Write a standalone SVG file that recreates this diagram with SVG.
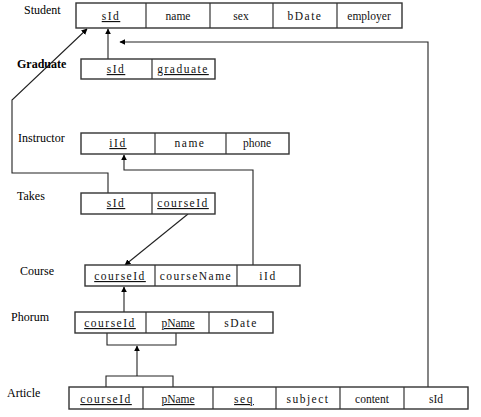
<svg xmlns="http://www.w3.org/2000/svg" width="481" height="417" viewBox="0 0 481 417">
<style>
.box{fill:#fff;stroke:#333;stroke-width:1.4}
.div{stroke:#333;stroke-width:1.2}
.lbl{font-family:"Liberation Serif",serif;font-size:12px;fill:#000}
.f{font-family:"Liberation Serif",serif;font-size:11.5px;fill:#111;text-anchor:middle;letter-spacing:1.5px}
.s{font-family:"Liberation Serif",serif;font-size:11.5px;fill:#111;text-anchor:middle}
.u{text-decoration:underline}
.c{fill:none;stroke:#222;stroke-width:1.1}
</style>
<defs>
<marker id="ah" viewBox="0 0 10 10" refX="9" refY="5" markerWidth="6" markerHeight="6" markerUnits="userSpaceOnUse" orient="auto">
<path d="M0,0 L10,5 L0,10 z" fill="#000"/>
</marker>
</defs>
<rect width="481" height="417" fill="#fff"/>
<g id="connectors">
<polyline class="c" points="108,59 108,29" marker-end="url(#ah)"/>
<polyline class="c" points="108,193 108,173 12,173 12,100 87,29" marker-end="url(#ah)"/>
<polyline class="c" points="428,387 428,42 120,42" marker-end="url(#ah)"/>
<polyline class="c" points="253,265 253,170 124,170 124,155" marker-end="url(#ah)"/>
<polyline class="c" points="188,214 125,265" marker-end="url(#ah)"/>
<polyline class="c" points="124,312 124,287" marker-end="url(#ah)"/>
<polyline class="c" points="107,333 107,345 176,345 176,333"/>
<polyline class="c" points="106,387 106,376 173,376 173,387"/>
<polyline class="c" points="137,376 137,346" marker-end="url(#ah)"/>
</g>
<g id="student">
<text class="lbl" x="24" y="14">Student</text>
<rect class="box" x="76" y="3" width="326" height="25"/>
<line class="div" x1="146" y1="3" x2="146" y2="28"/>
<line class="div" x1="210" y1="3" x2="210" y2="28"/>
<line class="div" x1="273" y1="3" x2="273" y2="28"/>
<line class="div" x1="337" y1="3" x2="337" y2="28"/>
<text class="f u" x="111" y="20">sId</text>
<text class="s" x="178" y="20">name</text>
<text class="s" x="241" y="20">sex</text>
<text class="f" x="305" y="20">bDate</text>
<text class="s" x="369" y="20">employer</text>
</g>
<g id="graduate">
<text class="lbl" x="17" y="68" font-weight="bold">Graduate</text>
<rect class="box" x="81" y="59" width="134" height="20"/>
<line class="div" x1="152" y1="59" x2="152" y2="79"/>
<text class="f u" x="116" y="73">sId</text>
<text class="f u" x="183" y="73">graduate</text>
</g>
<g id="instructor">
<text class="lbl" x="18" y="142">Instructor</text>
<rect class="box" x="81" y="133" width="208" height="21"/>
<line class="div" x1="155" y1="133" x2="155" y2="154"/>
<line class="div" x1="226" y1="133" x2="226" y2="154"/>
<text class="f u" x="118" y="147">iId</text>
<text class="f" x="190" y="147">name</text>
<text class="s" x="257" y="147">phone</text>
</g>
<g id="takes">
<text class="lbl" x="17" y="200">Takes</text>
<rect class="box" x="81" y="193" width="134" height="21"/>
<line class="div" x1="152" y1="193" x2="152" y2="214"/>
<text class="f u" x="116" y="207">sId</text>
<text class="f u" x="183" y="207">courseId</text>
</g>
<g id="course">
<text class="lbl" x="20" y="275">Course</text>
<rect class="box" x="85" y="265" width="215" height="21"/>
<line class="div" x1="155" y1="265" x2="155" y2="286"/>
<line class="div" x1="237" y1="265" x2="237" y2="286"/>
<text class="f u" x="120" y="280">courseId</text>
<text class="f" x="196" y="280">courseName</text>
<text class="f" x="268" y="280">iId</text>
</g>
<g id="phorum">
<text class="lbl" x="11" y="321">Phorum</text>
<rect class="box" x="75" y="312" width="198" height="21"/>
<line class="div" x1="146" y1="312" x2="146" y2="333"/>
<line class="div" x1="209" y1="312" x2="209" y2="333"/>
<text class="f u" x="110" y="327">courseId</text>
<text class="s u" x="178" y="327">pName</text>
<text class="f" x="241" y="327">sDate</text>
</g>
<g id="article">
<text class="lbl" x="7" y="397">Article</text>
<rect class="box" x="69" y="387" width="399" height="22"/>
<line class="div" x1="143" y1="387" x2="143" y2="409"/>
<line class="div" x1="213" y1="387" x2="213" y2="409"/>
<line class="div" x1="276" y1="387" x2="276" y2="409"/>
<line class="div" x1="340" y1="387" x2="340" y2="409"/>
<line class="div" x1="404" y1="387" x2="404" y2="409"/>
<text class="f u" x="106" y="403">courseId</text>
<text class="s u" x="178" y="403">pName</text>
<text class="f u" x="244" y="403">seq</text>
<text class="f" x="308" y="403">subject</text>
<text class="s" x="372" y="403">content</text>
<text class="s" x="436" y="403">sId</text>
</g>
</svg>
